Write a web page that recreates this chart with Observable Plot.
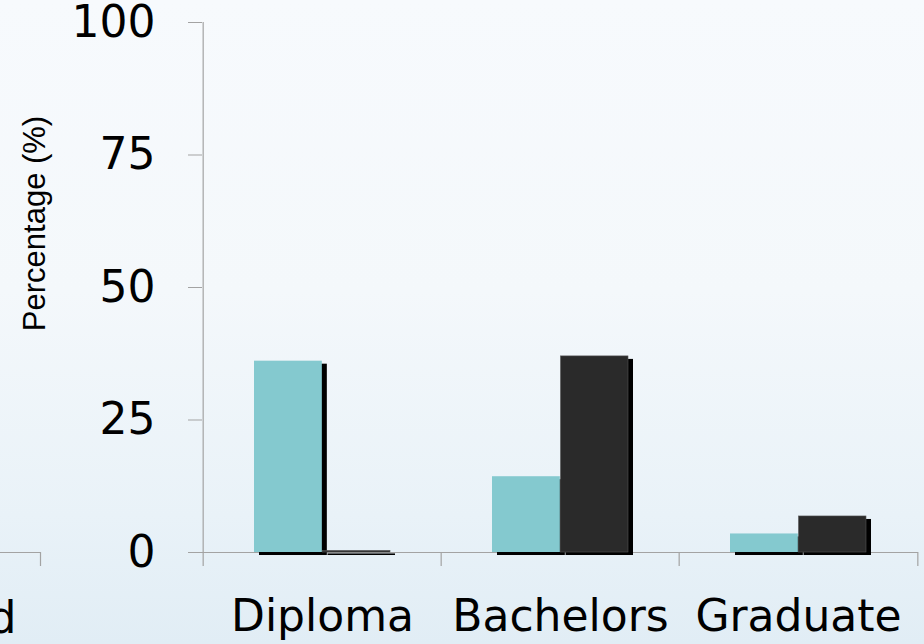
<!DOCTYPE html>
<html>
<head>
<meta charset="utf-8">
<script src="https://cdn.jsdelivr.net/npm/d3@7"></script>
<script src="https://cdn.jsdelivr.net/npm/@observablehq/plot@0.6"></script>
<style>
  html, body { margin: 0; padding: 0; }
  body {
    width: 924px; height: 644px; overflow: hidden;
    background: linear-gradient(to bottom, #f7fafd 0%, #f4f8fb 45%, #e9f2f8 80%, #e1edf5 100%);
  }
  #wrap { position: relative; width: 924px; height: 644px; }
  #wrap svg { position: absolute; left: 0; top: 0; overflow: visible; }
  [aria-label^="y-axis"] line, [aria-label^="y-axis"] path { stroke: #a3a3a3; }
</style>
</head>
<body>
<div id="wrap"></div>
<script>
// ---- data ----
const categories = ["Diploma", "Bachelors", "Graduate"];
const seriesNames = ["Group A", "Group B"];
const seriesA = [36.1, 14.3, 3.5];   // teal bars
const seriesB = [0.3, 37.0, 6.8];    // dark bars
const yTicks = [0, 25, 50, 75, 100];
const yLabel = "Percentage (%)";
const leftPanelLabel = "d";

const rowsA = categories.map((c, i) => ({category: c, series: seriesNames[0], value: seriesA[i]}));
const rowsB = categories.map((c, i) => ({category: c, series: seriesNames[1], value: seriesB[i]}));

// ---- layout ----
const W = 924, H = 644;
const mL = 202, mR = 6, mT = 22, mB = 78;
const yMin = -2.64;
const bw = (W - mL - mR) / categories.length;
const gray = "#a3a3a3";
const teal = "#84c9cf";
const dark = "#2a2a2a";
const innerA = {insetLeft: 51, insetRight: bw - 51 - 68.5};
const innerB = {insetLeft: 51 + 68.5, insetRight: 51};

const main = Plot.plot({
  width: W, height: H,
  marginLeft: mL, marginRight: mR, marginTop: mT, marginBottom: mB,
  style: {fontFamily: "DejaVu Sans", fontSize: "44px", background: "transparent", color: "black"},
  x: {domain: categories, padding: 0, tickSize: 0, tickPadding: 33, label: null},
  y: {domain: [yMin, 100], ticks: yTicks, tickSize: 14, tickPadding: 33, label: null},
  marks: [
    // baseline
    Plot.ruleY([0], {stroke: gray, strokeWidth: 1.2}),
    // y axis line + category boundary ticks
    Plot.ruleX([categories[0]], {x: d => d, dx: -bw / 2, y1: yMin, y2: 100, stroke: gray, strokeWidth: 1.2}),
    Plot.ruleX(categories.slice(1), {x: d => d, dx: -bw / 2, y1: yMin, y2: 0, stroke: gray, strokeWidth: 1.2}),
    Plot.ruleX([categories[categories.length - 1]], {x: d => d, dx: bw / 2, y1: yMin, y2: 0, stroke: gray, strokeWidth: 1.2}),
    // shadows
    Plot.barY(rowsA, {x: "category", y: "value", fill: "#000", dx: 5, dy: 3, ...innerA}),
    Plot.barY(rowsB, {x: "category", y: "value", fill: "#000", dx: 5, dy: 3, ...innerB}),
    // bars
    Plot.barY(rowsA, {x: "category", y: "value", fill: teal, ...innerA}),
    Plot.barY(rowsB, {x: "category", y: "value", fill: dark, stroke: "#555", strokeWidth: 0.6, ...innerB}),
    // y label
    Plot.text([yLabel], {text: d => d, frameAnchor: "left", textAnchor: "middle", lineAnchor: "middle",
      rotate: -90, dx: -167, dy: -71, fontSize: 31, fontFamily: "Liberation Sans", fill: "black"})
  ]
});

// partial neighbouring panel on the far left (cropped in the reference)
const left = Plot.plot({
  width: 42, height: H,
  marginLeft: 0, marginRight: 2, marginTop: mT, marginBottom: mB,
  style: {fontFamily: "DejaVu Sans", fontSize: "44px", background: "transparent", color: "black"},
  x: {domain: [0, 1], axis: null},
  y: {domain: [yMin, 100], axis: null},
  marks: [
    Plot.ruleY([0], {x1: 0, x2: 1, stroke: gray, strokeWidth: 1.2}),
    Plot.ruleX([1], {y1: yMin, y2: 0, stroke: gray, strokeWidth: 1.2}),
    Plot.text([leftPanelLabel], {text: d => d, frameAnchor: "bottom-left", textAnchor: "end",
      dx: 16, dy: 66, fontSize: 44, fill: "black"})
  ]
});

const wrap = document.getElementById("wrap");
wrap.appendChild(main);
wrap.appendChild(left);
</script>
</body>
</html>
